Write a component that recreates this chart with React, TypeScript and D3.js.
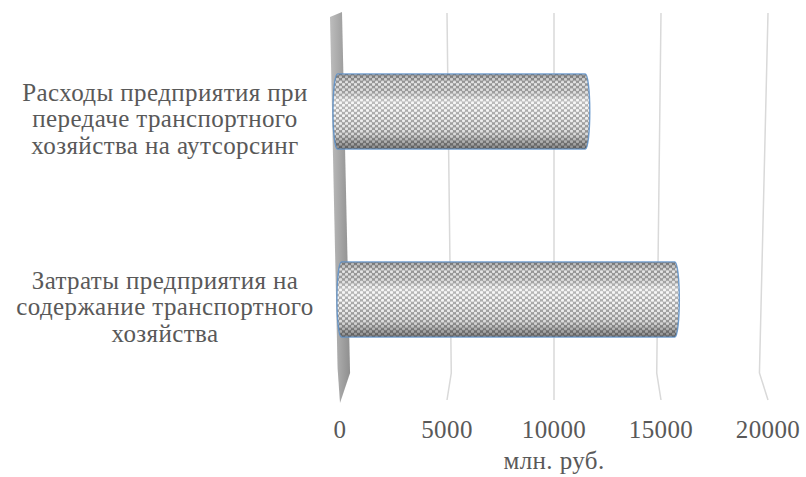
import { useEffect, useRef } from "react";
import * as d3 from "d3";

// categories from bottom to top (Excel bar order)
const categories = [
  "Затраты предприятия на содержание транспортного хозяйства",
  "Расходы предприятия при передаче транспортного хозяйства на аутсорсинг",
];
const categoryLines = [
  ["Затраты предприятия на", "содержание транспортного", "хозяйства"],
  ["Расходы предприятия при", "передаче транспортного", "хозяйства на аутсорсинг"],
];
const values = [16000, 12000];
const ticks = [0, 5000, 10000, 15000, 20000];
const axisTitle = "млн. руб.";

const W = 806;
const H = 477;
const FONT = "'Liberation Serif', 'DejaVu Serif', 'Noto Serif', Tinos, serif";
const TEXT = "#595959";

const App = () => {
  const svgRef = useRef<SVGSVGElement>(null);

  useEffect(() => {
    if (!svgRef.current) return;
    const root = d3.select(svgRef.current);
    root.selectAll("*").remove();

    const wallTop = 13;
    const wallMid = 373;
    const floorY = 401;

    // back wall scale
    const x = d3.scaleLinear().domain([0, 20000]).range([340, 768]);
    const cx = x(10000);
    // slight perspective convergence toward the centre line while going down the wall
    const k = (yy: number) => 1 - 0.04 * (yy - wallTop) / (wallMid - wallTop);
    const px = (v: number, yy: number) => cx + (x(v) - cx) * k(yy);

    // front plane scale for the bars
    const xf = d3.scaleLinear().domain([0, 20000]).range([331, 759]);
    const shift = (yy: number) => (yy - 17) * 0.021;

    const y = d3
      .scaleBand()
      .domain([...categories].reverse())
      .range([17.5, 393.5])
      .paddingInner(0.6)
      .paddingOuter(0.3);

    const defs = root.append("defs");

    // hexagon mesh pattern
    const pat = defs
      .append("pattern")
      .attr("id", "mesh")
      .attr("patternUnits", "userSpaceOnUse")
      .attr("width", 6)
      .attr("height", 5.2);
    pat.append("rect").attr("width", 6).attr("height", 5.2).attr("fill", "#9c9c9c");
    [
      [1.5, 1.3],
      [4.5, 3.9],
      [4.5, -1.3],
      [-1.5, 3.9],
      [7.5, 3.9],
      [1.5, 6.5],
    ].forEach(([a, b]) => {
      pat.append("circle").attr("cx", a).attr("cy", b).attr("r", 1.6).attr("fill", "#f4f4f4");
    });

    // cylinder shading
    const shade = defs
      .append("linearGradient")
      .attr("id", "shade")
      .attr("x1", 0)
      .attr("y1", 0)
      .attr("x2", 0)
      .attr("y2", 1);
    [
      [0, "#000", 0.3],
      [0.12, "#000", 0.05],
      [0.35, "#fff", 0.32],
      [0.55, "#fff", 0.08],
      [0.8, "#000", 0.1],
      [1, "#000", 0.45],
    ].forEach(([o, c, a]) => {
      shade
        .append("stop")
        .attr("offset", o as number)
        .attr("stop-color", c as string)
        .attr("stop-opacity", a as number);
    });

    const wallGrad = defs.append("linearGradient").attr("id", "wall");
    wallGrad.append("stop").attr("offset", 0).attr("stop-color", "#bdbdbd");
    wallGrad.append("stop").attr("offset", 1).attr("stop-color", "#8f8f8f");

    // gridlines on back wall + floor
    root
      .append("g")
      .selectAll("path")
      .data(ticks.filter((t) => t > 0))
      .join("path")
      .attr("d", (t) =>
        d3.line()([
          [x(t), wallTop],
          [px(t, wallMid), wallMid],
          [x(t), floorY - 1],
        ])
      )
      .attr("fill", "none")
      .attr("stroke", "#d9d9d9")
      .attr("stroke-width", 1.5);

    // side wall at zero
    const x0t = x(0);
    const x0m = px(0, wallMid);
    root
      .append("path")
      .attr(
        "d",
        d3.line()([
          [x0t - 10, wallTop + 4],
          [x0t + 2, wallTop - 1],
          [x0m + 1.5, wallMid],
          [x0t, floorY + 2],
          [x0m - 11, wallMid - 5],
        ]) + "Z"
      )
      .attr("fill", "url(#wall)");

    // cylinders
    const cyl = (xl: number, xr: number, yt: number, yb: number) => {
      const rx = 4.5;
      const ry = (yb - yt) / 2;
      return `M${xl + rx},${yt}L${xr - rx},${yt}A${rx},${ry} 0 0 1 ${xr - rx},${yb}L${xl + rx},${yb}A${rx},${ry} 0 0 1 ${xl + rx},${yt}Z`;
    };
    const bars = root
      .append("g")
      .selectAll("g")
      .data(categories.map((c, i) => ({ c, v: values[i] })))
      .join("g");
    const geom = (d: { c: string; v: number }) => {
      const yt = y(d.c)!;
      const yb = yt + y.bandwidth();
      const s = shift((yt + yb) / 2);
      return cyl(xf(0) + s, xf(d.v) + s, yt, yb);
    };
    bars.append("path").attr("d", geom).attr("fill", "url(#mesh)");
    bars.append("path").attr("d", geom).attr("fill", "url(#shade)");
    bars
      .append("path")
      .attr("d", geom)
      .attr("fill", "none")
      .attr("stroke", "#5b8fc9")
      .attr("stroke-width", 1.4)
      .attr("stroke-opacity", 0.85);

    // category labels
    const labels = root
      .append("g")
      .selectAll("text")
      .data(categories.map((c, i) => ({ c, lines: categoryLines[i] })))
      .join("text")
      .attr("text-anchor", "middle")
      .style("font-family", FONT)
      .style("font-size", "25px")
      .style("letter-spacing", "0.4px")
      .attr("fill", TEXT);
    labels
      .selectAll("tspan")
      .data((d) => d.lines.map((l, j) => ({ l, j, c: d.c })))
      .join("tspan")
      .attr("x", 165)
      .attr("y", (d) => y(d.c)! + y.bandwidth() / 2 + 15.5 + (d.j - 1) * 26.5)
      .text((d) => d.l);

    // tick labels
    root
      .append("g")
      .selectAll("text")
      .data(ticks)
      .join("text")
      .attr("x", (t) => x(t))
      .attr("y", 438)
      .attr("text-anchor", "middle")
      .style("font-family", FONT)
      .style("font-size", "25px")
      .style("letter-spacing", "0.4px")
      .attr("fill", TEXT)
      .text((t) => String(t));

    root
      .append("text")
      .attr("x", x(10000))
      .attr("y", 469)
      .attr("text-anchor", "middle")
      .style("font-family", FONT)
      .style("font-size", "25px")
      .style("letter-spacing", "0.4px")
      .attr("fill", TEXT)
      .text(axisTitle);
  }, []);

  return (
    <svg
      ref={svgRef}
      width={W}
      height={H}
      viewBox={`0 0 ${W} ${H}`}
      style={{ position: "absolute", left: 0, top: 0, background: "#fff" }}
    />
  );
};

export default App;
